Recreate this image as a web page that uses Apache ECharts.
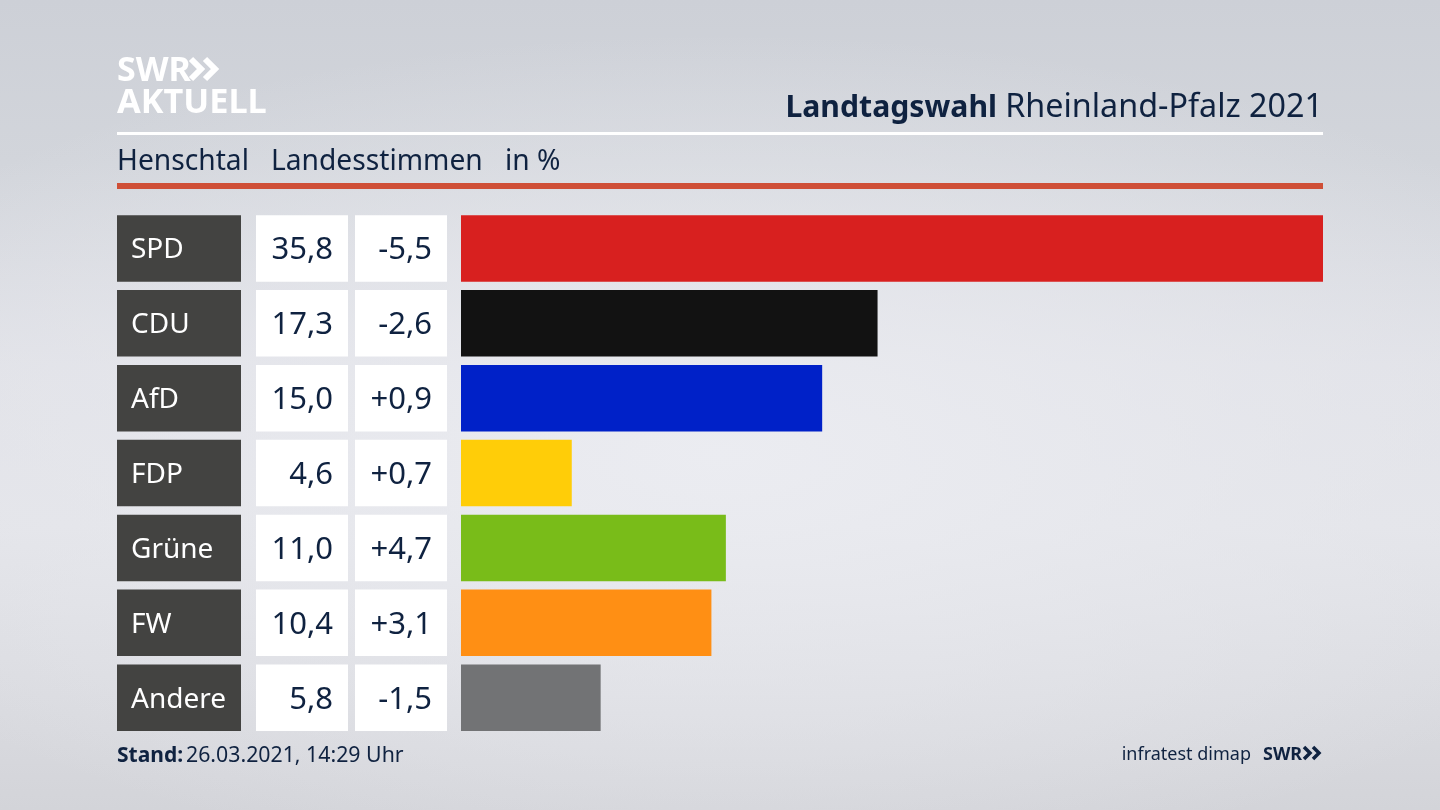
<!DOCTYPE html>
<html>
<head>
<meta charset="utf-8">
<title>Landtagswahl Rheinland-Pfalz 2021</title>
<script src="https://cdn.jsdelivr.net/npm/echarts@6/dist/echarts.min.js"></script>
<style>
html, body { margin: 0; padding: 0; width: 1440px; height: 810px; overflow: hidden;
  background: radial-gradient(ellipse 1000px 420px at 50% 56%, rgba(236,237,242,0.9) 0%, rgba(232,233,238,0.55) 55%, rgba(225,226,232,0) 100%),
    linear-gradient(180deg, #cdd0d7 0%, #d2d5db 20%, #e0e1e7 45%, #e3e4e9 65%, #d9dadf 88%, #d3d4d9 100%); }
#chart { width: 1440px; height: 810px; }
</style>
</head>
<body>
<div id="chart"></div>
<script>
var parties = ['SPD', 'CDU', 'AfD', 'FDP', 'Grüne', 'FW', 'Andere'];
var shares = [35.8, 17.3, 15.0, 4.6, 11.0, 10.4, 5.8];
var changes = ['-5,5', '-2,6', '+0,9', '+0,7', '+4,7', '+3,1', '-1,5'];
var barColors = ['#d8201f', '#121212', '#0021c8', '#ffcd08', '#79bc19', '#ff8f14', '#727375'];

var FONT = '"Noto Sans", sans-serif';
var NAVY = '#0f2240';

function de(v) { return v.toFixed(1).replace('.', ','); }

// die Zellen links sind Achsenbeschriftungen mit Hintergrund
function cellAxis(labels, offset, cell) {
    return {
        type: 'category', inverse: true, position: 'left', offset: offset,
        data: labels,
        axisLine: { show: false }, axisTick: { show: false },
        axisLabel: {
            margin: 0, interval: 0, formatter: function (v) { return '{c|' + v + '}'; },
            rich: { c: cell }
        }
    };
}

var barAxis = cellAxis(parties, 0, {});
barAxis.axisLabel = { show: false };

var chart = echarts.init(document.getElementById('chart'), null, { renderer: 'canvas' });
chart.setOption({
    animation: false,
    backgroundColor: 'transparent',
    grid: { left: 461, top: 211, width: 862, height: 524.2 },
    xAxis: { type: 'value', min: 0, max: 35.8, show: false },
    yAxis: [
        barAxis,
        cellAxis(parties, 220, { width: 110, height: 62.5, padding: [4, 0, 0, 14], align: 'left', color: '#fff',
            fontFamily: FONT, fontSize: 28, backgroundColor: '#434341' }),
        cellAxis(shares.map(de), 113, { width: 77, height: 62.5, padding: [4, 15, 0, 0], align: 'right', color: NAVY,
            fontFamily: FONT, fontSize: 31, backgroundColor: '#fff' }),
        cellAxis(changes, 14, { width: 77, height: 62.5, padding: [4, 15, 0, 0], align: 'right', color: NAVY,
            fontFamily: FONT, fontSize: 31, backgroundColor: '#fff' })
    ],
    series: [{
        type: 'bar', yAxisIndex: 0, barWidth: 66.5, silent: true,
        data: shares.map(function (v, i) { return { value: v, itemStyle: { color: barColors[i] } }; })
    }],
    graphic: [
        { type: 'rect', shape: { x: 117, y: 132, width: 1206, height: 3 }, style: { fill: '#fff' } },
        { type: 'rect', shape: { x: 117, y: 183, width: 1206, height: 6 }, style: { fill: '#cf4f37' } },
        { type: 'text', style: { x: 117, y: 71, text: 'SWR', fill: '#fff', font: '700 34px ' + FONT, textVerticalAlign: 'middle' } },
        { type: 'polyline', shape: { points: [[191, 59], [201, 69], [191, 79]] }, style: { stroke: '#fff', lineWidth: 6, fill: 'none' } },
        { type: 'polyline', shape: { points: [[205, 59], [215, 69], [205, 79]] }, style: { stroke: '#fff', lineWidth: 6, fill: 'none' } },
        { type: 'text', style: { x: 117, y: 103, text: 'AKTUELL', fill: '#fff', font: '700 34.3px ' + FONT, textVerticalAlign: 'middle' } },
        { type: 'text', style: { x: 997, y: 108, text: 'Landtagswahl', fill: NAVY, font: '700 30.2px ' + FONT, textAlign: 'right', textVerticalAlign: 'middle' } },
        { type: 'text', style: { x: 1323, y: 108, text: 'Rheinland-Pfalz 2021', fill: NAVY, font: '400 32.3px ' + FONT, textAlign: 'right', textVerticalAlign: 'middle' } },
        { type: 'text', style: { x: 117, y: 162, text: 'Henschtal', fill: NAVY, font: '400 28.2px ' + FONT, textVerticalAlign: 'middle' } },
        { type: 'text', style: { x: 271, y: 162, text: 'Landesstimmen', fill: NAVY, font: '400 28.2px ' + FONT, textVerticalAlign: 'middle' } },
        { type: 'text', style: { x: 505, y: 162, text: 'in %', fill: NAVY, font: '400 28.2px ' + FONT, textVerticalAlign: 'middle' } },
        { type: 'text', style: { x: 117, y: 756, text: 'Stand:', fill: NAVY, font: '700 21px ' + FONT, textVerticalAlign: 'middle' } },
        { type: 'text', style: { x: 186, y: 756, text: '26.03.2021, 14:29 Uhr', fill: NAVY, font: '400 21.3px ' + FONT, textVerticalAlign: 'middle' } },
        { type: 'text', style: { x: 1251, y: 755, text: 'infratest dimap', fill: NAVY, font: '400 18px ' + FONT, textAlign: 'right', textVerticalAlign: 'middle' } },
        { type: 'text', style: { x: 1263, y: 755, text: 'SWR', fill: NAVY, font: '700 18px ' + FONT, textVerticalAlign: 'middle' } },
        { type: 'polyline', shape: { points: [[1304, 747], [1310, 753], [1304, 759]] }, style: { stroke: NAVY, lineWidth: 3.5, fill: 'none' } },
        { type: 'polyline', shape: { points: [[1313, 747], [1319, 753], [1313, 759]] }, style: { stroke: NAVY, lineWidth: 3.5, fill: 'none' } }
    ]
});
</script>
</body>
</html>
